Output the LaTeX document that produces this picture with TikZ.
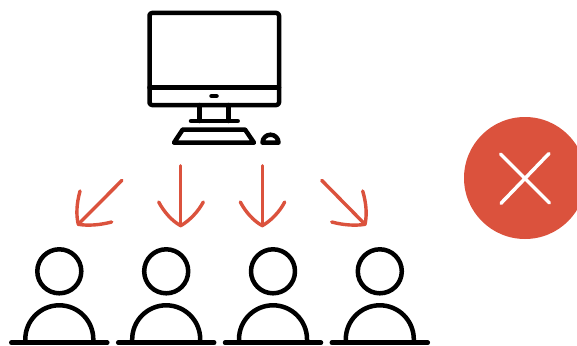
\documentclass[tikz,border=0pt]{standalone}
\usepackage{tikz}
\usetikzlibrary{positioning,calc}
\definecolor{alertred}{HTML}{DB523D}
\tikzset{
  iconline/.style={draw=black, line width=4.5pt, line cap=round, line join=round},
  screenbox/.style={iconline, rounded corners=2.5pt, inner sep=0pt, outer sep=0pt, minimum width=129.5pt, minimum height=92pt},
  headnode/.style={iconline, circle, inner sep=0pt, outer sep=0pt, minimum size=44pt},
  alertnode/.style={circle, fill=alertred, inner sep=0pt, outer sep=0pt, minimum size=122pt},
  flowline/.style={draw=alertred, line width=3.4pt, line cap=round, line join=round},
  crossline/.style={draw=white, line width=3.5pt, line cap=round}
}
\begin{document}
\begin{tikzpicture}[x=1pt, y=-1pt]
  \clip (0,0) rectangle (577,345);
  \fill[white] (0,0) rectangle (577,345);
  % computer
  \node[screenbox] (screen) at (214.25,59) {};
  \draw[iconline] (149.5,87.7) -- (279,87.7);
  \draw[line width=4.5pt, line cap=round] (211.5,96) -- (216.5,96);
  \draw[iconline] (199.5,105) -- (199.5,121) (228.7,105) -- (228.7,121);
  \draw[iconline] (191,121) -- (237.7,121);
  \draw[iconline] (182.7,129.5) -- (245,129.5) -- (254,142.7) -- (174,142.7) -- cycle;
  \draw[iconline] (262.5,142.7) arc[start angle=180, end angle=360, radius=8] -- cycle;
  % arrows
  \coordinate (a1) at (122,180.3);
  \coordinate (a1t) at (78.3,224.3);
  \coordinate (a2) at (180.7,165.7);
  \coordinate (a2t) at (180.7,225.7);
  \coordinate (a3) at (262.3,165.7);
  \coordinate (a3t) at (262.3,225.7);
  \coordinate (a4) at (321.7,180.3);
  \coordinate (a4t) at (365,224.3);
  \draw[flowline] (a1) -- (a1t);
  \draw[flowline] (80,191) .. controls (76.5,204) and (76,215) .. (a1t) .. controls (88,226) and (100,225) .. (111.7,222);
  \draw[flowline] (a2) -- (a2t);
  \draw[flowline] (158.7,202) .. controls (164,212) and (172,221) .. (a2t) .. controls (189,221) and (198,212) .. (203.3,202);
  \draw[flowline] (a3) -- (a3t);
  \draw[flowline] (240.3,202) .. controls (245.6,212) and (253.6,221) .. (a3t) .. controls (270.6,221) and (279.6,212) .. (284.7,202);
  \draw[flowline] (a4) -- (a4t);
  \draw[flowline] (362.7,191) .. controls (366.5,204) and (367,215) .. (a4t) .. controls (355,226) and (343,225) .. (331.7,222);
  % people
  \foreach \i/\x in {1/59.3, 2/166.2, 3/273, 4/379.8} {
    \node[headnode] (head\i) at (\x,271.3) {};
    \draw[iconline] (\x-34,342.7) -- (\x-34,339.3) arc[start angle=180, end angle=360, radius=34] -- (\x+34,342.7);
    \draw[iconline] (\x-48,342.7) -- (\x+48,342.7);
  }
  % alert
  \node[alertnode] (alert) at (525,178) {};
  \draw[crossline] (500.5,154) -- (549.5,203);
  \draw[crossline] (549,153.5) -- (501,203.3);
\end{tikzpicture}
\end{document}
